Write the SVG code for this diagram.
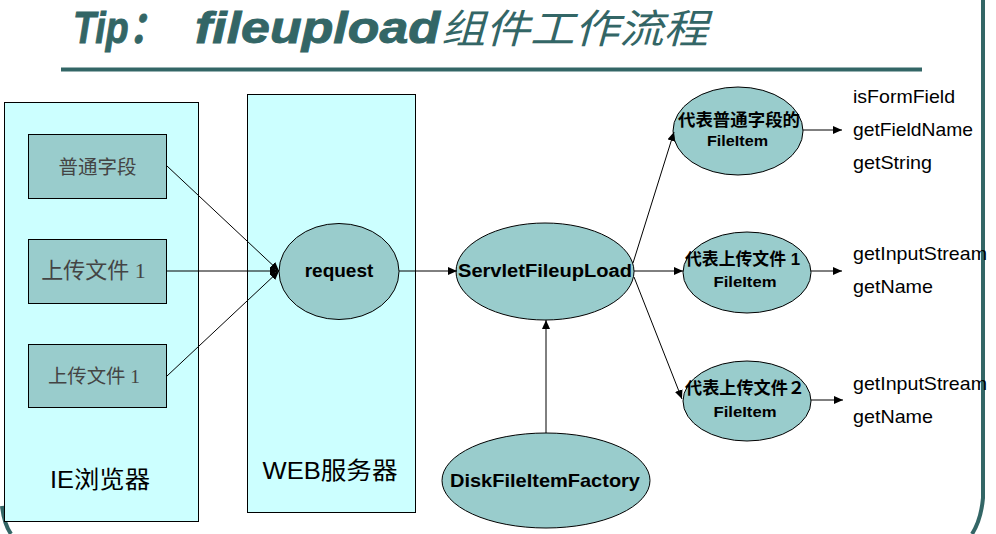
<svg xmlns="http://www.w3.org/2000/svg" width="996" height="534" viewBox="0 0 996 534">
<style>
.frame{fill:none;stroke:#336666;stroke-width:4}
.panel{fill:#CCFFFF;stroke:#000;stroke-width:1}
.node{fill:#99CCCC;stroke:#000;stroke-width:1}
.link{fill:none;stroke:#000;stroke-width:1}
.ttl{fill:#336666;font-family:"Liberation Sans","Noto Sans CJK SC",sans-serif;font-style:italic;font-weight:bold}
.ttlcjk{fill:#336666;font-family:"Noto Sans CJK SC",sans-serif;font-style:italic;font-weight:normal}
.boxt{fill:#444;font-family:"Liberation Serif","Noto Sans CJK SC",serif;text-anchor:middle}
.panelt{fill:#000;font-family:"Liberation Sans","Noto Sans CJK SC",sans-serif;font-size:24px;text-anchor:middle}
.nodet{fill:#000;font-family:"Liberation Sans","Noto Sans CJK SC",sans-serif;font-weight:bold;text-anchor:middle}
.meth{fill:#000;font-family:"Liberation Sans",sans-serif;font-size:19px}
</style>
<defs>
<marker id="arr" markerUnits="userSpaceOnUse" markerWidth="10" markerHeight="8" refX="9" refY="4" orient="auto">
<path d="M0,0 L9,4 L0,8 Z" fill="#000"/>
</marker>
</defs>

<g id="title">
<text class="ttl" x="73" y="43" font-size="44" textLength="93" lengthAdjust="spacingAndGlyphs" stroke="#336666" stroke-width="0.9">Tip：</text>
<text class="ttl" x="195" y="43" font-size="44" textLength="245" lengthAdjust="spacingAndGlyphs" stroke="#336666" stroke-width="0.9">fileupload</text>
<text class="ttlcjk" x="441" y="43" font-size="40" textLength="267" lengthAdjust="spacingAndGlyphs">组件工作流程</text>
</g>

<g id="frame">
<line class="frame" x1="61" y1="69.5" x2="922" y2="69.5"/>
<path class="frame" d="M983,0 L983,498 Q981,520 972,534"/>
<path class="frame" d="M2,506 Q4,524 11,534"/>
</g>

<g id="ie-browser">
<rect class="panel" x="4.5" y="102.5" width="194" height="419"/>
<text class="panelt" x="100" y="488" textLength="100" lengthAdjust="spacingAndGlyphs">IE浏览器</text>
</g>
<g id="web-server">
<rect class="panel" x="247.5" y="94.5" width="168" height="418"/>
<text class="panelt" x="330" y="479" font-size="25" textLength="135" lengthAdjust="spacingAndGlyphs">WEB服务器</text>
</g>

<g id="field-box">
<rect class="node" x="28.5" y="134.5" width="138" height="64"/>
<text class="boxt" x="97.5" y="174" font-size="19.5">普通字段</text>
</g>
<g id="file1-box">
<rect class="node" x="28.5" y="239.5" width="138" height="64"/>
<text class="boxt" x="93.5" y="278" font-size="22">上传文件 1</text>
</g>
<g id="file2-box">
<rect class="node" x="28.5" y="344.5" width="138" height="63"/>
<text class="boxt" x="94" y="383" font-size="19.4">上传文件 1</text>
</g>

<g id="request">
<ellipse class="node" cx="339" cy="271.5" rx="60" ry="48"/>
<text class="nodet" x="339" y="277" font-size="19">request</text>
</g>
<g id="servlet-fileupload">
<ellipse class="node" cx="545" cy="271.5" rx="89" ry="48.5"/>
<text class="nodet" x="545" y="277" font-size="18" textLength="174" lengthAdjust="spacingAndGlyphs">ServletFileupLoad</text>
</g>
<g id="disk-fileitem-factory">
<ellipse class="node" cx="546" cy="480.5" rx="104" ry="47.5"/>
<text class="nodet" x="545" y="487" font-size="19" textLength="190" lengthAdjust="spacingAndGlyphs">DiskFileItemFactory</text>
</g>
<g id="fileitem-field">
<ellipse class="node" cx="738" cy="131" rx="65" ry="44"/>
<text class="nodet" x="739" y="126" font-size="17" textLength="122" lengthAdjust="spacingAndGlyphs">代表普通字段的</text>
<text class="nodet" x="737.5" y="146" font-size="15.5" textLength="61" lengthAdjust="spacingAndGlyphs">FileItem</text>
</g>
<g id="fileitem-file1">
<ellipse class="node" cx="747" cy="272.5" rx="64" ry="40.5"/>
<text class="nodet" x="742.5" y="265" font-size="17" textLength="115" lengthAdjust="spacingAndGlyphs">代表上传文件 1</text>
<text class="nodet" x="745" y="287" font-size="15.5" textLength="63" lengthAdjust="spacingAndGlyphs">FileItem</text>
</g>
<g id="fileitem-file2">
<ellipse class="node" cx="747" cy="401" rx="64" ry="40"/>
<text class="nodet" x="745" y="394" font-size="17" textLength="120" lengthAdjust="spacingAndGlyphs">代表上传文件２</text>
<text class="nodet" x="745" y="417" font-size="15.5" textLength="63" lengthAdjust="spacingAndGlyphs">FileItem</text>
</g>

<g id="methods">
<text class="meth" x="853" y="103" textLength="102" lengthAdjust="spacingAndGlyphs">isFormField</text>
<text class="meth" x="853" y="136" textLength="120" lengthAdjust="spacingAndGlyphs">getFieldName</text>
<text class="meth" x="853" y="169" textLength="79" lengthAdjust="spacingAndGlyphs">getString</text>
<text class="meth" x="853" y="260" textLength="134" lengthAdjust="spacingAndGlyphs">getInputStream</text>
<text class="meth" x="853" y="293" textLength="80" lengthAdjust="spacingAndGlyphs">getName</text>
<text class="meth" x="853" y="390" textLength="134" lengthAdjust="spacingAndGlyphs">getInputStream</text>
<text class="meth" x="853" y="423" textLength="80" lengthAdjust="spacingAndGlyphs">getName</text>
</g>

<g id="connectors">
<line class="link" x1="167" y1="166" x2="279" y2="271" marker-end="url(#arr)"/>
<line class="link" x1="167" y1="271" x2="279" y2="271" marker-end="url(#arr)"/>
<line class="link" x1="167" y1="376" x2="279" y2="271" marker-end="url(#arr)"/>
<line class="link" x1="399" y1="271" x2="457" y2="271" marker-end="url(#arr)"/>
<line class="link" x1="546" y1="433" x2="546" y2="320" marker-end="url(#arr)"/>
<line class="link" x1="633" y1="263" x2="674" y2="132" marker-end="url(#arr)"/>
<line class="link" x1="634" y1="271" x2="683" y2="271" marker-end="url(#arr)"/>
<line class="link" x1="634" y1="277" x2="682" y2="399" marker-end="url(#arr)"/>
<line class="link" x1="803" y1="130" x2="842" y2="130" marker-end="url(#arr)"/>
<line class="link" x1="811" y1="271" x2="842" y2="271" marker-end="url(#arr)"/>
<line class="link" x1="811" y1="400" x2="843" y2="400" marker-end="url(#arr)"/>
</g>
</svg>
